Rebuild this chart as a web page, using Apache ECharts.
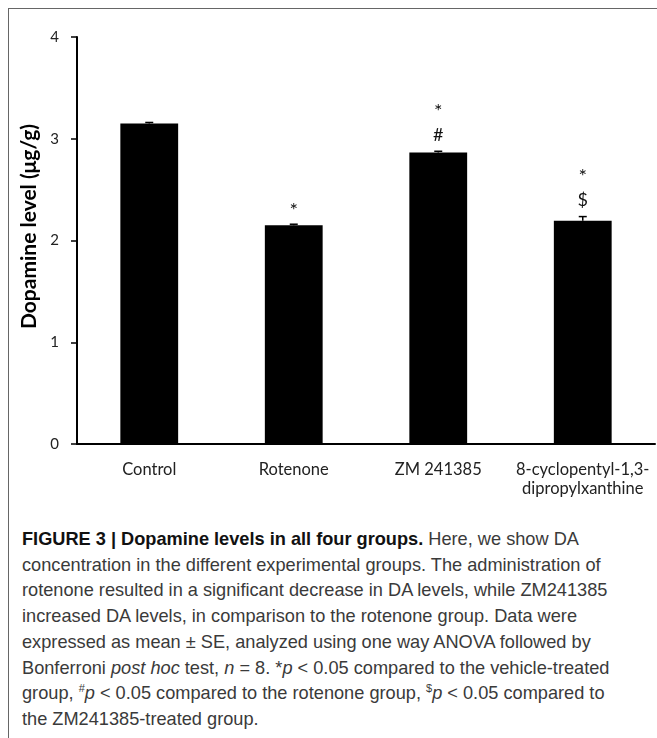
<!DOCTYPE html>
<html>
<head>
<meta charset="utf-8">
<script src="https://cdn.jsdelivr.net/npm/echarts@6/dist/echarts.min.js"></script>
<style>
  html, body { margin: 0; padding: 0; background: #fff; }
  #wrap { position: relative; width: 657px; height: 738px; overflow: hidden; }
  #frame { position: absolute; left: 8px; top: 8px; width: 700px; height: 760px; border-left: 1.5px solid #666; border-top: 1.5px solid #666; box-sizing: border-box; }
  #chart { position: absolute; left: 0; top: 0; width: 657px; height: 520px; }
  #caption { position: absolute; left: 22px; top: 527px; width: 640px; font-family: "Liberation Sans", Arial, sans-serif; font-size: 18.2px; line-height: 25.7px; color: #3a3a3a; }
  #caption div { white-space: nowrap; }
  #caption b { color: #111; }
  sup { font-size: 11px; line-height: 0; }
</style>
</head>
<body>
<div id="wrap">
  <div id="frame"></div>
  <div id="chart"></div>
  <div id="caption">
    <div><b>FIGURE 3 | Dopamine levels in all four groups.</b> Here, we show DA</div>
    <div>concentration in the different experimental groups. The administration of</div>
    <div>rotenone resulted in a significant decrease in DA levels, while ZM241385</div>
    <div>increased DA levels, in comparison to the rotenone group. Data were</div>
    <div>expressed as mean ± SE, analyzed using one way ANOVA followed by</div>
    <div>Bonferroni <i>post hoc</i> test, <i>n</i> = 8. *<i>p</i> &lt; 0.05 compared to the vehicle-treated</div>
    <div>group, <sup>#</sup><i>p</i> &lt; 0.05 compared to the rotenone group, <sup>$</sup><i>p</i> &lt; 0.05 compared to</div>
    <div>the ZM241385-treated group.</div>
  </div>
</div>
<script>
const categories = ['Control', 'Rotenone', 'ZM 241385', '8-cyclopentyl-1,3-\ndipropylxanthine'];
const meanValues = [3.15, 2.15, 2.865, 2.195];
const seValues = [0.01, 0.01, 0.012, 0.04];
const significance = ['', '*', '*\n#', '*\n$'];
const yTicks = [0, 1, 2, 3, 4];

const chart = echarts.init(document.getElementById('chart'), null, { renderer: 'canvas' });
const fontFam = 'Lato, "Open Sans", sans-serif';

chart.setOption({
  animation: false,
  grid: { left: 77, right: 2, top: 37, bottom: 76, containLabel: false },
  xAxis: {
    type: 'category',
    data: categories,
    axisLine: { lineStyle: { color: '#000', width: 2 } },
    axisTick: { show: false },
    axisLabel: { color: '#222', fontSize: 16.5, fontFamily: fontFam, margin: 16, lineHeight: 19, interval: 0 }
  },
  yAxis: {
    type: 'value',
    min: yTicks[0],
    max: yTicks[yTicks.length - 1],
    interval: 1,
    name: 'Dopamine level (μg/g)',
    nameLocation: 'middle',
    nameGap: 32,
    nameTextStyle: { fontSize: 21, fontWeight: 'bold', color: '#000', fontFamily: fontFam, padding: [0, 0, 0, 28] },
    splitLine: { show: false },
    axisLine: { show: true, lineStyle: { color: '#000', width: 2 } },
    axisTick: { show: true, length: 6, lineStyle: { color: '#000', width: 1.5 } },
    axisLabel: { color: '#222', fontSize: 15, fontFamily: fontFam, margin: 18 }
  },
  series: [
    {
      type: 'bar',
      data: meanValues,
      barWidth: '40%',
      itemStyle: { color: '#000' }
    },
    {
      type: 'custom',
      data: meanValues.map((v, i) => [i, v, seValues[i]]),
      z: 10,
      renderItem: function (params, api) {
        const i = api.value(0);
        const v = api.value(1);
        const e = api.value(2);
        const base = api.coord([i, v]);
        const top = api.coord([i, v + e]);
        const capHalf = 4;
        const children = [
          { type: 'line', shape: { x1: base[0], y1: base[1], x2: top[0], y2: top[1] }, style: { stroke: '#000', lineWidth: 1.5 } },
          { type: 'line', shape: { x1: top[0] - capHalf, y1: top[1], x2: top[0] + capHalf, y2: top[1] }, style: { stroke: '#000', lineWidth: 1.5 } }
        ];
        const sig = significance[i];
        if (sig) {
          const lines = sig.split('\n');
          lines.forEach(function (t, k) {
            const fromBottom = lines.length - 1 - k;
            const isStar = t === '*';
            children.push({
              type: 'text',
              style: {
                text: t,
                x: top[0],
                y: top[1] - (isStar ? 14 : 16) - fromBottom * 26,
                align: 'center',
                verticalAlign: 'middle',
                fontSize: isStar ? 20 : 18,
                fontFamily: fontFam,
                fill: '#111'
              }
            });
          });
        }
        return { type: 'group', children: children };
      }
    }
  ]
});
</script>
</body>
</html>
